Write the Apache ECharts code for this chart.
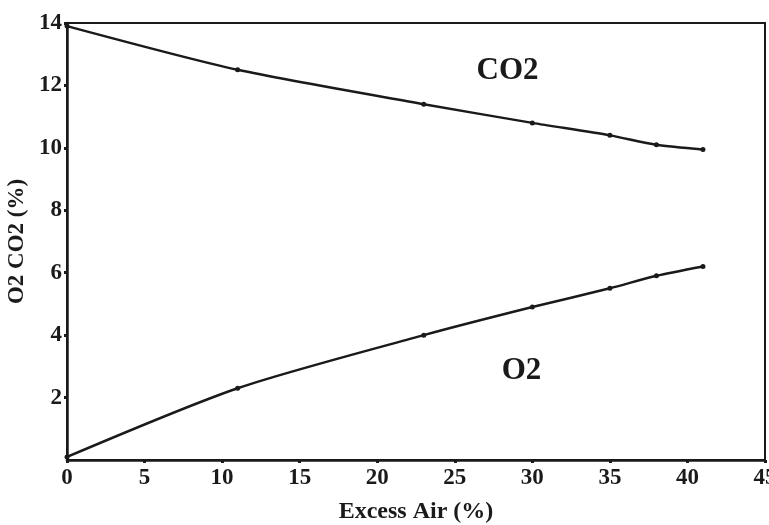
<!DOCTYPE html>
<html>
<head>
<meta charset="utf-8">
<script src="https://cdn.jsdelivr.net/npm/echarts@6/dist/echarts.min.js"></script>
<style>
  html, body { margin: 0; padding: 0; background: #fff; }
  #chart { width: 769px; height: 525px; }
</style>
</head>
<body>
<div id="chart"></div>
<script>
// excess air (%) where readings were taken
var excessAir = [0, 11, 23, 30, 35, 38, 41];
// CO2 and O2 in flue gas (%)
var co2Values = [13.9, 12.5, 11.4, 10.8, 10.4, 10.1, 9.95];
var o2Values = [0.1, 2.3, 4.0, 4.9, 5.5, 5.9, 6.2];
// where the curve names sit, in data units
var co2LabelAt = [28.4, 12.45];
var o2LabelAt = [29.3, 2.85];

var font = 'Liberation Serif';
var ink = '#1a1a1a';

function pairs(xs, ys) {
  return xs.map(function (x, i) { return [x, ys[i]]; });
}

function curve(name, values, labelAt) {
  return {
    name: name,
    type: 'line',
    smooth: 0.25,
    data: pairs(excessAir, values),
    symbol: 'circle',
    symbolSize: 5,
    itemStyle: { color: ink },
    lineStyle: { color: ink, width: 2.5 },
    markPoint: {
      symbol: 'circle',
      symbolSize: 0,
      data: [{ coord: labelAt }],
      label: {
        show: true,
        formatter: name,
        fontFamily: font,
        fontWeight: 'bold',
        fontSize: 31,
        color: ink
      }
    }
  };
}

var chart = echarts.init(document.getElementById('chart'));
chart.setOption({
  backgroundColor: '#fff',
  animation: false,
  grid: {
    left: 67,
    right: 4,
    top: 23,
    bottom: 65,
    containLabel: false,
    outerBoundsMode: 'none',
    show: true,
    borderColor: ink,
    borderWidth: 2
  },
  xAxis: {
    type: 'value',
    min: 0,
    max: 45,
    interval: 5,
    name: 'Excess Air (%)',
    nameLocation: 'middle',
    nameGap: 40,
    nameTextStyle: { fontFamily: font, fontWeight: 'bold', fontSize: 24, color: ink },
    axisLine: { lineStyle: { color: ink, width: 2.5 } },
    axisTick: { show: true, length: 3, lineStyle: { color: ink, width: 3 } },
    axisLabel: { fontFamily: font, fontWeight: 'bold', fontSize: 23, color: ink, margin: 7 },
    splitLine: { show: false }
  },
  yAxis: {
    type: 'value',
    min: 0,
    max: 14,
    interval: 2,
    name: 'O2 CO2 (%)',
    nameLocation: 'middle',
    nameGap: 32,
    nameTextStyle: { fontFamily: font, fontWeight: 'bold', fontSize: 23, color: ink },
    axisLine: { show: true, lineStyle: { color: ink, width: 2.5 } },
    axisTick: { show: true, length: 3, lineStyle: { color: ink, width: 3 } },
    axisLabel: { fontFamily: font, fontWeight: 'bold', fontSize: 23, color: ink, margin: 5, showMinLabel: false },
    splitLine: { show: false }
  },
  series: [
    curve('CO2', co2Values, co2LabelAt),
    curve('O2', o2Values, o2LabelAt)
  ]
});
</script>
</body>
</html>
